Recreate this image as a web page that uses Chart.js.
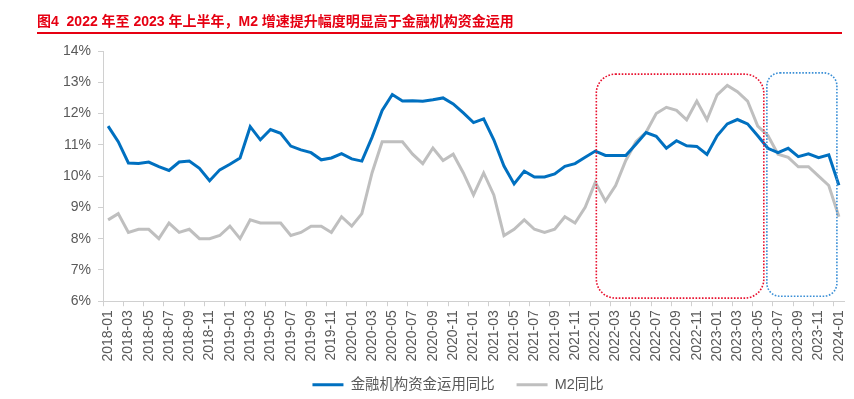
<!DOCTYPE html>
<html>
<head>
<meta charset="utf-8">
<script src="https://cdn.jsdelivr.net/npm/chart.js@4.4.1/dist/chart.umd.min.js"></script>
<style>
    html, body { margin: 0; padding: 0; background: #fff; }
    #wrap { position: relative; width: 854px; height: 399px; overflow: hidden; }
    #title {
        position: absolute; left: 37px; top: 10px;
        font: bold 14px "Liberation Sans", "Noto Sans CJK SC", sans-serif;
        color: #e60012; white-space: nowrap;
    }
    #rule { position: absolute; left: 37px; top: 32px; width: 805px; height: 2px; background: #e60012; }
    #chart { position: absolute; left: 0; top: 0; }
</style>
</head>
<body>
<div id="wrap">
    <canvas id="chart" width="854" height="399"></canvas>
    <div id="title">图4&nbsp; 2022 年至 2023 年上半年，M2 增速提升幅度明显高于金融机构资金运用</div>
    <div id="rule"></div>
</div>
<script>
(function () {
    'use strict';

    var months = [
        '2018-01', '2018-02', '2018-03', '2018-04', '2018-05', '2018-06', '2018-07', '2018-08', '2018-09', '2018-10', '2018-11', '2018-12',
        '2019-01', '2019-02', '2019-03', '2019-04', '2019-05', '2019-06', '2019-07', '2019-08', '2019-09', '2019-10', '2019-11', '2019-12',
        '2020-01', '2020-02', '2020-03', '2020-04', '2020-05', '2020-06', '2020-07', '2020-08', '2020-09', '2020-10', '2020-11', '2020-12',
        '2021-01', '2021-02', '2021-03', '2021-04', '2021-05', '2021-06', '2021-07', '2021-08', '2021-09', '2021-10', '2021-11', '2021-12',
        '2022-01', '2022-02', '2022-03', '2022-04', '2022-05', '2022-06', '2022-07', '2022-08', '2022-09', '2022-10', '2022-11', '2022-12',
        '2023-01', '2023-02', '2023-03', '2023-04', '2023-05', '2023-06', '2023-07', '2023-08', '2023-09', '2023-10', '2023-11', '2023-12',
        '2024-01'
    ];

    // 金融机构资金运用同比 (%)
    var fundUse = [
        11.6, 11.1, 10.42, 10.4, 10.45, 10.3, 10.18, 10.45, 10.48, 10.25, 9.85, 10.2,
        10.38, 10.58, 11.58, 11.16, 11.49, 11.37, 10.96, 10.84, 10.75, 10.52, 10.58, 10.72,
        10.55, 10.48, 11.24, 12.1, 12.61, 12.4, 12.41, 12.39, 12.44, 12.5, 12.31, 12.02,
        11.71, 11.83, 11.16, 10.32, 9.75, 10.16, 9.97, 9.97, 10.07, 10.31, 10.4, 10.6,
        10.8, 10.66, 10.66, 10.66, 11.02, 11.39, 11.27, 10.89, 11.13, 10.97, 10.95, 10.69,
        11.29, 11.67, 11.81, 11.67, 11.29, 10.89, 10.75, 10.89, 10.62, 10.71, 10.59, 10.68,
        9.71
    ];

    // M2同比 (%)
    var m2 = [
        8.6, 8.8, 8.2, 8.3, 8.3, 8.0, 8.5, 8.2, 8.3, 8.0, 8.0, 8.1,
        8.4, 8.0, 8.6, 8.5, 8.5, 8.5, 8.1, 8.2, 8.4, 8.4, 8.2, 8.7,
        8.4, 8.8, 10.1, 11.1, 11.1, 11.1, 10.7, 10.4, 10.9, 10.5, 10.7, 10.1,
        9.4, 10.1, 9.4, 8.1, 8.3, 8.6, 8.3, 8.2, 8.3, 8.7, 8.5, 9.0,
        9.8, 9.2, 9.7, 10.5, 11.1, 11.4, 12.0, 12.2, 12.1, 11.8, 12.4, 11.8,
        12.6, 12.9, 12.7, 12.4, 11.6, 11.3, 10.7, 10.6, 10.3, 10.3, 10.0, 9.7,
        8.7
    ];

    var seriesNames = ['金融机构资金运用同比', 'M2同比'];
    var yTicks = [6, 7, 8, 9, 10, 11, 12, 13, 14];

    // highlight frames, in category index / percent units
    var frames = [
        { from: 48.1, to: 64.6, top: 13.26, bottom: 6.1, color: '#e8102e', radius: 19 },
        { from: 64.9, to: 71.8, top: 13.3, bottom: 6.16, color: '#3a8fd6', radius: 13 }
    ];

    var textColor = '#595959';
    var axisColor = '#d0d0d0';
    var font = '"Liberation Sans", "Noto Sans CJK SC", sans-serif';

    function roundRect(ctx, x, y, w, h, r) {
        ctx.beginPath();
        ctx.moveTo(x + r, y);
        ctx.lineTo(x + w - r, y);
        ctx.arcTo(x + w, y, x + w, y + r, r);
        ctx.lineTo(x + w, y + h - r);
        ctx.arcTo(x + w, y + h, x + w - r, y + h, r);
        ctx.lineTo(x + r, y + h);
        ctx.arcTo(x, y + h, x, y + h - r, r);
        ctx.lineTo(x, y + r);
        ctx.arcTo(x, y, x + r, y, r);
        ctx.closePath();
    }

    var framePlugin = {
        id: 'frames',
        afterLayout: function (chart) {
            // pull the legend a little closer to the axis labels
            var lg = chart.legend;
            lg.top -= 10; lg.bottom -= 10;
            lg.left += 3; lg.right += 3;
        },
        afterDatasetsDraw: function (chart) {
            var ctx = chart.ctx;
            var xs = chart.scales.x, ys = chart.scales.y;
            frames.forEach(function (f) {
                var x1 = xs.getPixelForValue(f.from), x2 = xs.getPixelForValue(f.to);
                var y1 = ys.getPixelForValue(f.top), y2 = ys.getPixelForValue(f.bottom);
                ctx.save();
                ctx.strokeStyle = f.color;
                ctx.lineWidth = 1.6;
                ctx.setLineDash([1.6, 1.6]);
                roundRect(ctx, x1, y1, x2 - x1, y2 - y1, f.radius);
                ctx.stroke();
                ctx.restore();
            });
        }
    };

    new Chart(document.getElementById('chart'), {
        type: 'line',
        data: {
            labels: months,
            datasets: [
                { label: seriesNames[0], data: fundUse, borderColor: '#0070c0', backgroundColor: '#0070c0', borderWidth: 3, pointRadius: 0, tension: 0 },
                { label: seriesNames[1], data: m2, borderColor: '#bfbfbf', backgroundColor: '#bfbfbf', borderWidth: 3, pointRadius: 0, tension: 0 }
            ]
        },
        options: {
            responsive: false,
            animation: false,
            layout: { padding: { left: 56, right: 0, top: 51, bottom: -13 } },
            plugins: {
                legend: {
                    position: 'bottom',
                    labels: {
                        usePointStyle: true,
                        pointStyle: 'line',
                        pointStyleWidth: 31,
                        boxHeight: 14,
                        padding: 22,
                        color: textColor,
                        font: { family: font, size: 14.4 }
                    }
                },
                tooltip: { enabled: false }
            },
            scales: {
                x: {
                    offset: true,
                    afterFit: function (axis) { axis.paddingRight = 10; },
                    grid: {
                        offset: true,
                        drawOnChartArea: false,
                        tickLength: 5,
                        color: function (c) { return c.index % 2 === 0 ? axisColor : 'rgba(0,0,0,0)'; }
                    },
                    border: { display: true, color: axisColor, width: 1 },
                    ticks: {
                        autoSkip: false,
                        maxRotation: 90,
                        minRotation: 90,
                        padding: 4,
                        color: textColor,
                        font: { family: font, size: 14 },
                        callback: function (v, i) { return i % 2 === 0 ? months[i] : ''; }
                    }
                },
                y: {
                    min: yTicks[0],
                    max: yTicks[yTicks.length - 1],
                    afterBuildTicks: function (axis) {
                        axis.ticks = yTicks.map(function (v) { return { value: v }; });
                    },
                    grid: { drawOnChartArea: false, tickLength: 5, color: axisColor },
                    border: { display: true, color: axisColor, width: 1 },
                    ticks: {
                        padding: 7,
                        color: textColor,
                        font: { family: font, size: 14 },
                        callback: function (v) { return v + '%'; }
                    }
                }
            }
        },
        plugins: [framePlugin]
    });
})();
</script>
</body>
</html>
